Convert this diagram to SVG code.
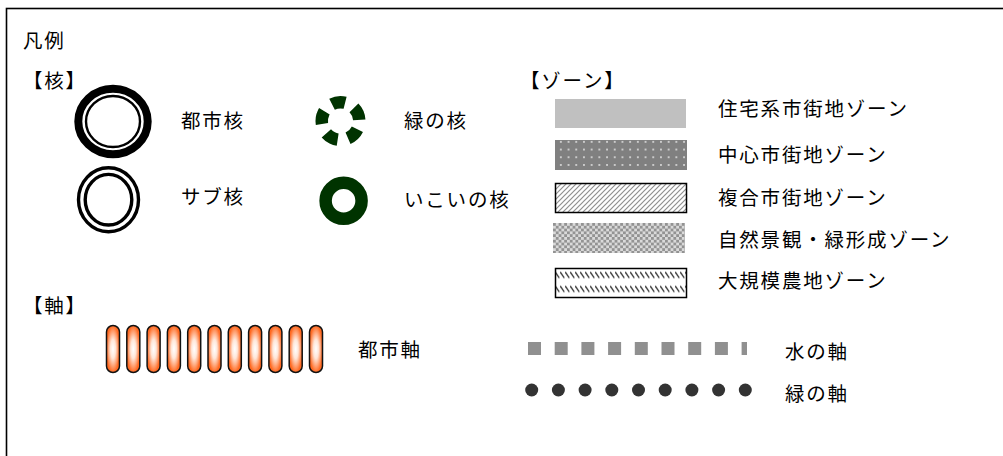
<svg xmlns="http://www.w3.org/2000/svg" width="1003" height="456" viewBox="0 0 1003 456">
<style>
  text { font-family: "Noto Sans CJK JP", "Noto Sans", sans-serif; font-size: 19.5px; letter-spacing: 1.8px; fill: #000; }
  .green { fill: none; stroke: #003300; }
</style>
<defs>
  <radialGradient id="capsule" cx="0.5" cy="0.5" r="0.5">
    <stop offset="0" stop-color="#ffffff"/>
    <stop offset="0.4" stop-color="#ffe6d8"/>
    <stop offset="1" stop-color="#ff6a22"/>
  </radialGradient>
  <pattern id="dots" patternUnits="userSpaceOnUse" x="557" y="138" width="7.7" height="7.7">
    <rect width="7.7" height="7.7" fill="#808080"/>
    <circle cx="3.85" cy="3.85" r="0.95" fill="#e4e4e4"/>
  </pattern>
  <pattern id="hatch" patternUnits="userSpaceOnUse" x="0" y="0" width="5" height="5">
    <rect width="5" height="5" fill="#fff"/>
    <path d="M0,5 L5,0 M-1,1 L1,-1 M4,6 L6,4" stroke="#909090" stroke-width="1.2"/>
  </pattern>
  <pattern id="checker" patternUnits="userSpaceOnUse" x="553" y="223" width="5.6" height="5.6">
    <rect width="5.6" height="5.6" fill="#dadada"/>
    <rect width="2.8" height="2.8" fill="#939393"/>
    <rect x="2.8" y="2.8" width="2.8" height="2.8" fill="#939393"/>
  </pattern>
  <pattern id="agri" patternUnits="userSpaceOnUse" x="555" y="270.5" width="5" height="14">
    <rect width="5" height="14" fill="#fff"/>
    <path d="M0.3,1.5 L4.3,7.5" stroke="#222" stroke-width="1.3"/>
  </pattern>
</defs>

<rect id="frame" x="6.5" y="8.5" width="1010" height="460" fill="#fff" stroke="#000" stroke-width="1.6"/>

<g id="headings">
  <text x="23" y="48">凡例</text>
  <text x="23" y="88">【核】</text>
  <text x="520" y="88">【ゾーン】</text>
  <text x="23" y="313">【軸】</text>
</g>

<g id="node-toshikaku">
  <ellipse cx="113" cy="121.5" rx="34.7" ry="32.7" fill="#fff" stroke="#000" stroke-width="8"/>
  <ellipse cx="113" cy="121.5" rx="27" ry="25.5" fill="none" stroke="#000" stroke-width="2.4"/>
  <text x="181" y="128">都市核</text>
</g>

<g id="node-subkaku">
  <ellipse cx="108.5" cy="199.7" rx="30" ry="32" fill="#fff" stroke="#000" stroke-width="3.4"/>
  <ellipse cx="108.5" cy="199.7" rx="23.3" ry="25.3" fill="none" stroke="#000" stroke-width="3.4"/>
  <text x="181" y="204">サブ核</text>
</g>

<g id="node-midori-kaku">
  <circle class="green" cx="340.5" cy="121" r="18.8" stroke-width="12.4" stroke-dasharray="13.2 10.42" transform="rotate(26 340.5 121)"/>
  <text x="404" y="128">緑の核</text>
</g>

<g id="node-ikoi-kaku">
  <circle class="green" cx="343.6" cy="200.8" r="18" stroke-width="12.5"/>
  <text x="404" y="207">いこいの核</text>
</g>

<g id="node-zone-residential">
  <rect x="555" y="99" width="131" height="29" fill="#c0c0c0"/>
  <text x="718" y="116">住宅系市街地ゾーン</text>
</g>
<g id="node-zone-central">
  <rect x="555" y="140" width="132" height="30" fill="url(#dots)"/>
  <text x="718" y="162">中心市街地ゾーン</text>
</g>
<g id="node-zone-mixed">
  <rect x="555.5" y="183.5" width="131" height="29" fill="url(#hatch)" stroke="#000" stroke-width="1.5"/>
  <text x="718" y="205">複合市街地ゾーン</text>
</g>
<g id="node-zone-nature">
  <rect x="553" y="223" width="132" height="30" fill="url(#checker)"/>
  <text x="718" y="247">自然景観・緑形成ゾーン</text>
</g>
<g id="node-zone-agri">
  <rect x="555.5" y="268.5" width="131" height="29" fill="url(#agri)" stroke="#000" stroke-width="1.5"/>
  <text x="718" y="288">大規模農地ゾーン</text>
</g>

<g id="node-toshijiku">
  <g fill="url(#capsule)" stroke="#111" stroke-width="1.5">
    <rect x="106.5" y="325.5" width="13" height="47" rx="6.5"/>
    <rect x="126.8" y="325.5" width="13" height="47" rx="6.5"/>
    <rect x="147.1" y="325.5" width="13" height="47" rx="6.5"/>
    <rect x="167.4" y="325.5" width="13" height="47" rx="6.5"/>
    <rect x="187.7" y="325.5" width="13" height="47" rx="6.5"/>
    <rect x="208" y="325.5" width="13" height="47" rx="6.5"/>
    <rect x="228.3" y="325.5" width="13" height="47" rx="6.5"/>
    <rect x="248.6" y="325.5" width="13" height="47" rx="6.5"/>
    <rect x="268.9" y="325.5" width="13" height="47" rx="6.5"/>
    <rect x="289.2" y="325.5" width="13" height="47" rx="6.5"/>
    <rect x="309.5" y="325.5" width="13" height="47" rx="6.5"/>
  </g>
  <text x="358" y="357">都市軸</text>
</g>

<g id="node-mizu-jiku">
  <line x1="528" y1="348.5" x2="747" y2="348.5" stroke="#909090" stroke-width="13" stroke-dasharray="13 13.7"/>
  <text x="785" y="359">水の軸</text>
</g>

<g id="node-midori-jiku">
  <g fill="#333">
    <circle cx="531.7" cy="390" r="6.5"/>
    <circle cx="558.4" cy="390" r="6.5"/>
    <circle cx="585.1" cy="390" r="6.5"/>
    <circle cx="611.8" cy="390" r="6.5"/>
    <circle cx="638.5" cy="390" r="6.5"/>
    <circle cx="665.2" cy="390" r="6.5"/>
    <circle cx="691.9" cy="390" r="6.5"/>
    <circle cx="718.6" cy="390" r="6.5"/>
    <circle cx="745.3" cy="390" r="6.5"/>
  </g>
  <text x="785" y="401">緑の軸</text>
</g>

<g id="connectors"></g>
</svg>
